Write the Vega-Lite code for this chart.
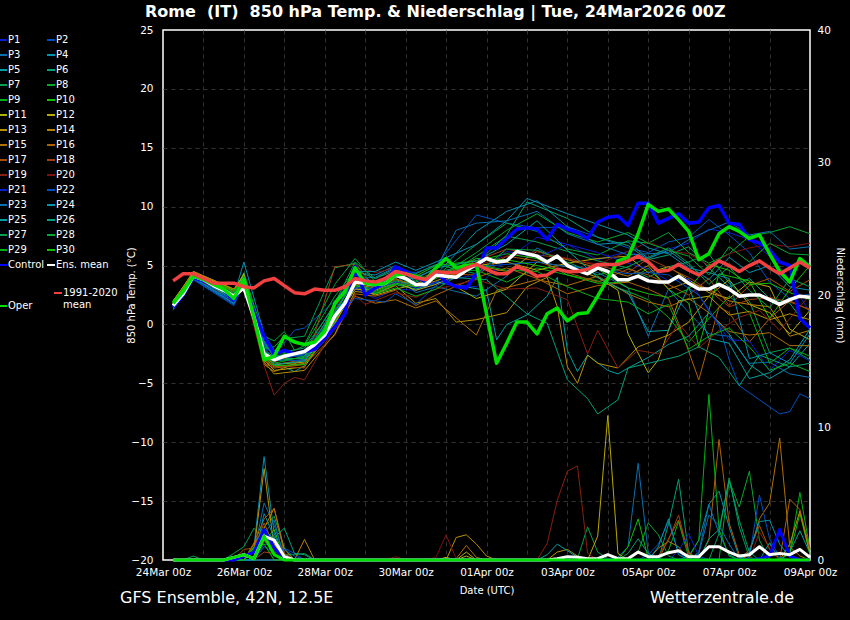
{"$schema":"https://vega.github.io/schema/vega-lite/v6.json",
"width":647,"height":530,
"autosize":{"type":"none"},
"padding":{"left":163,"top":30,"right":40,"bottom":60},
"background":"#000",
"title":{"text":"Rome\u00a0\u00a0(IT)\u00a0\u00a0850 hPa Temp. & Niederschlag | Tue, 24Mar2026 00Z","color":"#fff","fontSize":16,"fontWeight":"bold","anchor":"start","frame":"group","dx":-18,"offset":5},
"config":{"font":"DejaVu Sans","view":{"stroke":"#fff","strokeWidth":1.5},"line":{"strokeJoin":"round"},"legend":{"orient":"none","title":null,"columns":2,"direction":"horizontal","symbolLimit":0,"gridAlign":"each","symbolType":"stroke","symbolStrokeWidth":2,"symbolSize":64,"labelColor":"#fff","labelFontSize":10,"rowPadding":5,"columnPadding":1,"padding":0,"labelOffset":0}},
"datasets":{
"temperature":[
{"run":"P1","hour":6,"temp":1.5},{"run":"P1","hour":18,"temp":4.0},{"run":"P1","hour":42,"temp":2.0},{"run":"P1","hour":48,"temp":3.6},{"run":"P1","hour":60,"temp":-2.2},{"run":"P1","hour":66,"temp":-3.0},{"run":"P1","hour":84,"temp":-2.5},{"run":"P1","hour":102,"temp":0.5},{"run":"P1","hour":114,"temp":3.0},{"run":"P1","hour":126,"temp":2.2},{"run":"P1","hour":138,"temp":3.0},{"run":"P1","hour":150,"temp":2.9},{"run":"P1","hour":162,"temp":3.5},{"run":"P1","hour":186,"temp":3.2},{"run":"P1","hour":204,"temp":5.5},{"run":"P1","hour":222,"temp":7.4},{"run":"P1","hour":240,"temp":6.8},{"run":"P1","hour":258,"temp":5.5},{"run":"P1","hour":276,"temp":6.2},{"run":"P1","hour":288,"temp":5.6},{"run":"P1","hour":300,"temp":6.4},{"run":"P1","hour":312,"temp":6.9},{"run":"P1","hour":324,"temp":8.1},{"run":"P1","hour":336,"temp":7.8},{"run":"P1","hour":348,"temp":7.2},{"run":"P1","hour":360,"temp":5.8},{"run":"P1","hour":372,"temp":3.8},{"run":"P1","hour":384,"temp":1.0},
{"run":"P2","hour":6,"temp":1.3},{"run":"P2","hour":18,"temp":3.8},{"run":"P2","hour":42,"temp":1.8},{"run":"P2","hour":48,"temp":3.3},{"run":"P2","hour":60,"temp":-1.8},{"run":"P2","hour":66,"temp":-2.6},{"run":"P2","hour":78,"temp":-0.5},{"run":"P2","hour":84,"temp":-0.3},{"run":"P2","hour":102,"temp":2.0},{"run":"P2","hour":114,"temp":4.2},{"run":"P2","hour":126,"temp":3.5},{"run":"P2","hour":138,"temp":4.6},{"run":"P2","hour":150,"temp":4.4},{"run":"P2","hour":162,"temp":5.0},{"run":"P2","hour":186,"temp":9.3},{"run":"P2","hour":204,"temp":8.6},{"run":"P2","hour":222,"temp":8.2},{"run":"P2","hour":240,"temp":8.3},{"run":"P2","hour":258,"temp":7.4},{"run":"P2","hour":276,"temp":6.5},{"run":"P2","hour":288,"temp":6.1},{"run":"P2","hour":300,"temp":7.0},{"run":"P2","hour":312,"temp":7.4},{"run":"P2","hour":324,"temp":8.9},{"run":"P2","hour":336,"temp":7.6},{"run":"P2","hour":348,"temp":6.1},{"run":"P2","hour":360,"temp":3.6},{"run":"P2","hour":372,"temp":2.2},{"run":"P2","hour":384,"temp":2.6},
{"run":"P3","hour":6,"temp":1.4},{"run":"P3","hour":18,"temp":3.9},{"run":"P3","hour":42,"temp":1.7},{"run":"P3","hour":48,"temp":3.9},{"run":"P3","hour":60,"temp":-1.5},{"run":"P3","hour":66,"temp":-2.8},{"run":"P3","hour":84,"temp":-2.2},{"run":"P3","hour":102,"temp":1.0},{"run":"P3","hour":114,"temp":3.8},{"run":"P3","hour":126,"temp":3.4},{"run":"P3","hour":138,"temp":4.2},{"run":"P3","hour":150,"temp":2.7},{"run":"P3","hour":162,"temp":3.2},{"run":"P3","hour":186,"temp":2.4},{"run":"P3","hour":204,"temp":4.1},{"run":"P3","hour":222,"temp":6.5},{"run":"P3","hour":240,"temp":5.1},{"run":"P3","hour":258,"temp":4.4},{"run":"P3","hour":276,"temp":3.1},{"run":"P3","hour":288,"temp":-1.0},{"run":"P3","hour":300,"temp":3.0},{"run":"P3","hour":312,"temp":1.0},{"run":"P3","hour":324,"temp":-0.8},{"run":"P3","hour":336,"temp":-1.0},{"run":"P3","hour":348,"temp":-3.3},{"run":"P3","hour":360,"temp":-3.2},{"run":"P3","hour":372,"temp":-4.2},{"run":"P3","hour":384,"temp":-4.5},
{"run":"P4","hour":6,"temp":1.5},{"run":"P4","hour":18,"temp":4.0},{"run":"P4","hour":42,"temp":2.4},{"run":"P4","hour":48,"temp":5.3},{"run":"P4","hour":60,"temp":-0.8},{"run":"P4","hour":66,"temp":-2.2},{"run":"P4","hour":84,"temp":-2.6},{"run":"P4","hour":102,"temp":0.7},{"run":"P4","hour":114,"temp":4.4},{"run":"P4","hour":126,"temp":4.2},{"run":"P4","hour":138,"temp":5.0},{"run":"P4","hour":150,"temp":3.6},{"run":"P4","hour":162,"temp":4.2},{"run":"P4","hour":186,"temp":7.9},{"run":"P4","hour":204,"temp":9.6},{"run":"P4","hour":222,"temp":10.5},{"run":"P4","hour":240,"temp":8.3},{"run":"P4","hour":258,"temp":6.8},{"run":"P4","hour":276,"temp":7.0},{"run":"P4","hour":288,"temp":5.6},{"run":"P4","hour":300,"temp":6.3},{"run":"P4","hour":312,"temp":5.0},{"run":"P4","hour":324,"temp":3.8},{"run":"P4","hour":336,"temp":5.7},{"run":"P4","hour":348,"temp":4.4},{"run":"P4","hour":360,"temp":5.0},{"run":"P4","hour":372,"temp":3.2},{"run":"P4","hour":384,"temp":2.9},
{"run":"P5","hour":6,"temp":1.6},{"run":"P5","hour":18,"temp":4.0},{"run":"P5","hour":42,"temp":2.2},{"run":"P5","hour":48,"temp":3.8},{"run":"P5","hour":60,"temp":-2.5},{"run":"P5","hour":66,"temp":-3.2},{"run":"P5","hour":78,"temp":-4.0},{"run":"P5","hour":84,"temp":-3.5},{"run":"P5","hour":102,"temp":0.2},{"run":"P5","hour":114,"temp":3.2},{"run":"P5","hour":126,"temp":2.6},{"run":"P5","hour":138,"temp":3.4},{"run":"P5","hour":150,"temp":3.0},{"run":"P5","hour":162,"temp":3.6},{"run":"P5","hour":192,"temp":2.9},{"run":"P5","hour":198,"temp":-1.3},{"run":"P5","hour":204,"temp":0.0},{"run":"P5","hour":216,"temp":0.8},{"run":"P5","hour":228,"temp":2.4},{"run":"P5","hour":234,"temp":4.0},{"run":"P5","hour":240,"temp":-2.2},{"run":"P5","hour":246,"temp":-4.0},{"run":"P5","hour":252,"temp":-2.6},{"run":"P5","hour":264,"temp":-3.9},{"run":"P5","hour":270,"temp":-4.2},{"run":"P5","hour":276,"temp":-3.7},{"run":"P5","hour":288,"temp":-2.8},{"run":"P5","hour":300,"temp":-1.7},{"run":"P5","hour":312,"temp":-1.0},{"run":"P5","hour":324,"temp":1.0},{"run":"P5","hour":336,"temp":-0.8},{"run":"P5","hour":348,"temp":-3.4},{"run":"P5","hour":360,"temp":-4.6},{"run":"P5","hour":372,"temp":-3.6},{"run":"P5","hour":384,"temp":-1.6},
{"run":"P6","hour":6,"temp":1.7},{"run":"P6","hour":18,"temp":4.1},{"run":"P6","hour":42,"temp":2.6},{"run":"P6","hour":48,"temp":3.9},{"run":"P6","hour":60,"temp":-1.4},{"run":"P6","hour":66,"temp":-2.5},{"run":"P6","hour":84,"temp":-2.0},{"run":"P6","hour":102,"temp":1.6},{"run":"P6","hour":114,"temp":4.6},{"run":"P6","hour":126,"temp":3.9},{"run":"P6","hour":138,"temp":4.8},{"run":"P6","hour":150,"temp":3.8},{"run":"P6","hour":162,"temp":4.4},{"run":"P6","hour":186,"temp":5.2},{"run":"P6","hour":204,"temp":7.6},{"run":"P6","hour":216,"temp":10.4},{"run":"P6","hour":240,"temp":9.0},{"run":"P6","hour":258,"temp":7.4},{"run":"P6","hour":276,"temp":6.7},{"run":"P6","hour":288,"temp":5.5},{"run":"P6","hour":300,"temp":5.9},{"run":"P6","hour":312,"temp":6.6},{"run":"P6","hour":324,"temp":4.8},{"run":"P6","hour":336,"temp":3.2},{"run":"P6","hour":348,"temp":3.9},{"run":"P6","hour":360,"temp":2.2},{"run":"P6","hour":372,"temp":1.8},{"run":"P6","hour":384,"temp":-0.5},
{"run":"P7","hour":6,"temp":1.8},{"run":"P7","hour":18,"temp":4.1},{"run":"P7","hour":42,"temp":2.4},{"run":"P7","hour":48,"temp":4.4},{"run":"P7","hour":60,"temp":-1.6},{"run":"P7","hour":66,"temp":-2.3},{"run":"P7","hour":72,"temp":-1.2},{"run":"P7","hour":84,"temp":-1.0},{"run":"P7","hour":102,"temp":4.8},{"run":"P7","hour":114,"temp":5.2},{"run":"P7","hour":126,"temp":3.1},{"run":"P7","hour":138,"temp":3.4},{"run":"P7","hour":150,"temp":3.0},{"run":"P7","hour":162,"temp":3.6},{"run":"P7","hour":186,"temp":5.8},{"run":"P7","hour":204,"temp":7.5},{"run":"P7","hour":222,"temp":7.0},{"run":"P7","hour":240,"temp":6.2},{"run":"P7","hour":258,"temp":5.4},{"run":"P7","hour":276,"temp":4.8},{"run":"P7","hour":288,"temp":4.0},{"run":"P7","hour":300,"temp":4.9},{"run":"P7","hour":312,"temp":5.3},{"run":"P7","hour":324,"temp":6.0},{"run":"P7","hour":336,"temp":3.5},{"run":"P7","hour":348,"temp":2.0},{"run":"P7","hour":360,"temp":-2.4},{"run":"P7","hour":372,"temp":-2.0},{"run":"P7","hour":384,"temp":-3.0},
{"run":"P8","hour":6,"temp":1.7},{"run":"P8","hour":18,"temp":4.2},{"run":"P8","hour":42,"temp":2.8},{"run":"P8","hour":48,"temp":4.3},{"run":"P8","hour":60,"temp":-1.0},{"run":"P8","hour":66,"temp":-1.4},{"run":"P8","hour":72,"temp":-0.6},{"run":"P8","hour":78,"temp":-2.2},{"run":"P8","hour":84,"temp":-1.8},{"run":"P8","hour":102,"temp":2.4},{"run":"P8","hour":114,"temp":4.6},{"run":"P8","hour":126,"temp":3.0},{"run":"P8","hour":138,"temp":3.8},{"run":"P8","hour":150,"temp":3.4},{"run":"P8","hour":162,"temp":4.1},{"run":"P8","hour":186,"temp":6.8},{"run":"P8","hour":204,"temp":8.6},{"run":"P8","hour":222,"temp":7.9},{"run":"P8","hour":240,"temp":6.4},{"run":"P8","hour":258,"temp":5.9},{"run":"P8","hour":276,"temp":7.1},{"run":"P8","hour":288,"temp":6.9},{"run":"P8","hour":300,"temp":7.8},{"run":"P8","hour":312,"temp":6.1},{"run":"P8","hour":324,"temp":5.2},{"run":"P8","hour":336,"temp":6.0},{"run":"P8","hour":348,"temp":7.5},{"run":"P8","hour":360,"temp":7.8},{"run":"P8","hour":372,"temp":8.3},{"run":"P8","hour":384,"temp":7.7},
{"run":"P9","hour":6,"temp":1.8},{"run":"P9","hour":18,"temp":4.2},{"run":"P9","hour":42,"temp":2.6},{"run":"P9","hour":48,"temp":4.2},{"run":"P9","hour":60,"temp":-1.9},{"run":"P9","hour":66,"temp":-2.4},{"run":"P9","hour":84,"temp":-2.5},{"run":"P9","hour":102,"temp":0.8},{"run":"P9","hour":114,"temp":3.4},{"run":"P9","hour":126,"temp":2.7},{"run":"P9","hour":138,"temp":3.4},{"run":"P9","hour":150,"temp":3.7},{"run":"P9","hour":162,"temp":4.5},{"run":"P9","hour":186,"temp":4.6},{"run":"P9","hour":204,"temp":3.6},{"run":"P9","hour":222,"temp":4.8},{"run":"P9","hour":240,"temp":4.2},{"run":"P9","hour":258,"temp":3.7},{"run":"P9","hour":276,"temp":2.8},{"run":"P9","hour":288,"temp":2.1},{"run":"P9","hour":300,"temp":0.6},{"run":"P9","hour":312,"temp":-1.5},{"run":"P9","hour":324,"temp":0.5},{"run":"P9","hour":336,"temp":2.4},{"run":"P9","hour":348,"temp":1.0},{"run":"P9","hour":360,"temp":-3.3},{"run":"P9","hour":372,"temp":-2.0},{"run":"P9","hour":384,"temp":-2.7},
{"run":"P10","hour":6,"temp":1.9},{"run":"P10","hour":18,"temp":4.2},{"run":"P10","hour":42,"temp":2.5},{"run":"P10","hour":48,"temp":4.0},{"run":"P10","hour":60,"temp":-2.3},{"run":"P10","hour":66,"temp":-2.9},{"run":"P10","hour":84,"temp":-2.9},{"run":"P10","hour":102,"temp":0.6},{"run":"P10","hour":114,"temp":3.6},{"run":"P10","hour":126,"temp":3.3},{"run":"P10","hour":138,"temp":4.2},{"run":"P10","hour":150,"temp":4.1},{"run":"P10","hour":162,"temp":5.0},{"run":"P10","hour":186,"temp":5.4},{"run":"P10","hour":204,"temp":6.0},{"run":"P10","hour":222,"temp":5.6},{"run":"P10","hour":240,"temp":4.2},{"run":"P10","hour":258,"temp":3.5},{"run":"P10","hour":276,"temp":3.6},{"run":"P10","hour":288,"temp":4.8},{"run":"P10","hour":300,"temp":3.0},{"run":"P10","hour":312,"temp":1.8},{"run":"P10","hour":318,"temp":-1.9},{"run":"P10","hour":330,"temp":4.3},{"run":"P10","hour":348,"temp":3.7},{"run":"P10","hour":360,"temp":0.5},{"run":"P10","hour":372,"temp":3.0},{"run":"P10","hour":384,"temp":5.0},
{"run":"P11","hour":6,"temp":2.0},{"run":"P11","hour":18,"temp":4.3},{"run":"P11","hour":42,"temp":2.9},{"run":"P11","hour":48,"temp":4.3},{"run":"P11","hour":60,"temp":-2.7},{"run":"P11","hour":66,"temp":-3.4},{"run":"P11","hour":84,"temp":-3.2},{"run":"P11","hour":102,"temp":0.4},{"run":"P11","hour":114,"temp":3.1},{"run":"P11","hour":126,"temp":2.5},{"run":"P11","hour":138,"temp":3.0},{"run":"P11","hour":150,"temp":3.4},{"run":"P11","hour":162,"temp":4.2},{"run":"P11","hour":186,"temp":2.2},{"run":"P11","hour":204,"temp":3.0},{"run":"P11","hour":222,"temp":5.3},{"run":"P11","hour":240,"temp":4.9},{"run":"P11","hour":258,"temp":4.0},{"run":"P11","hour":270,"temp":2.9},{"run":"P11","hour":276,"temp":-0.8},{"run":"P11","hour":288,"temp":-4.1},{"run":"P11","hour":294,"temp":-3.0},{"run":"P11","hour":306,"temp":2.0},{"run":"P11","hour":324,"temp":2.4},{"run":"P11","hour":336,"temp":3.8},{"run":"P11","hour":348,"temp":1.7},{"run":"P11","hour":360,"temp":1.0},{"run":"P11","hour":372,"temp":-0.8},{"run":"P11","hour":384,"temp":1.2},
{"run":"P12","hour":6,"temp":2.0},{"run":"P12","hour":18,"temp":4.4},{"run":"P12","hour":42,"temp":3.0},{"run":"P12","hour":48,"temp":4.1},{"run":"P12","hour":60,"temp":-3.0},{"run":"P12","hour":66,"temp":-3.9},{"run":"P12","hour":84,"temp":-3.6},{"run":"P12","hour":102,"temp":0.1},{"run":"P12","hour":114,"temp":3.0},{"run":"P12","hour":126,"temp":2.9},{"run":"P12","hour":138,"temp":3.6},{"run":"P12","hour":150,"temp":2.9},{"run":"P12","hour":162,"temp":3.4},{"run":"P12","hour":186,"temp":5.0},{"run":"P12","hour":204,"temp":5.3},{"run":"P12","hour":222,"temp":4.6},{"run":"P12","hour":240,"temp":5.2},{"run":"P12","hour":258,"temp":5.6},{"run":"P12","hour":276,"temp":5.8},{"run":"P12","hour":288,"temp":4.4},{"run":"P12","hour":300,"temp":4.9},{"run":"P12","hour":312,"temp":3.8},{"run":"P12","hour":324,"temp":2.7},{"run":"P12","hour":336,"temp":2.2},{"run":"P12","hour":348,"temp":3.6},{"run":"P12","hour":360,"temp":3.2},{"run":"P12","hour":372,"temp":-0.4},{"run":"P12","hour":384,"temp":-1.3},
{"run":"P13","hour":6,"temp":1.9},{"run":"P13","hour":18,"temp":4.5},{"run":"P13","hour":42,"temp":3.0},{"run":"P13","hour":48,"temp":3.9},{"run":"P13","hour":60,"temp":-3.2},{"run":"P13","hour":66,"temp":-4.2},{"run":"P13","hour":84,"temp":-3.9},{"run":"P13","hour":102,"temp":-0.8},{"run":"P13","hour":114,"temp":2.8},{"run":"P13","hour":126,"temp":2.6},{"run":"P13","hour":138,"temp":3.3},{"run":"P13","hour":150,"temp":1.8},{"run":"P13","hour":162,"temp":2.2},{"run":"P13","hour":174,"temp":0.2},{"run":"P13","hour":186,"temp":0.4},{"run":"P13","hour":204,"temp":1.0},{"run":"P13","hour":216,"temp":3.2},{"run":"P13","hour":228,"temp":4.0},{"run":"P13","hour":234,"temp":1.5},{"run":"P13","hour":240,"temp":-3.6},{"run":"P13","hour":246,"temp":-5.0},{"run":"P13","hour":252,"temp":-2.6},{"run":"P13","hour":258,"temp":-3.3},{"run":"P13","hour":270,"temp":-3.7},{"run":"P13","hour":282,"temp":-1.9},{"run":"P13","hour":300,"temp":-0.9},{"run":"P13","hour":312,"temp":0.2},{"run":"P13","hour":324,"temp":2.4},{"run":"P13","hour":336,"temp":0.8},{"run":"P13","hour":348,"temp":1.1},{"run":"P13","hour":360,"temp":0.4},{"run":"P13","hour":372,"temp":0.9},{"run":"P13","hour":384,"temp":0.4},
{"run":"P14","hour":6,"temp":1.8},{"run":"P14","hour":18,"temp":4.5},{"run":"P14","hour":42,"temp":3.0},{"run":"P14","hour":48,"temp":3.7},{"run":"P14","hour":60,"temp":-3.4},{"run":"P14","hour":66,"temp":-4.0},{"run":"P14","hour":84,"temp":-3.0},{"run":"P14","hour":102,"temp":0.0},{"run":"P14","hour":114,"temp":3.4},{"run":"P14","hour":126,"temp":3.1},{"run":"P14","hour":138,"temp":3.9},{"run":"P14","hour":150,"temp":3.2},{"run":"P14","hour":162,"temp":3.7},{"run":"P14","hour":186,"temp":5.0},{"run":"P14","hour":204,"temp":4.5},{"run":"P14","hour":222,"temp":6.2},{"run":"P14","hour":240,"temp":5.5},{"run":"P14","hour":258,"temp":4.8},{"run":"P14","hour":276,"temp":4.1},{"run":"P14","hour":288,"temp":5.0},{"run":"P14","hour":300,"temp":3.0},{"run":"P14","hour":312,"temp":3.6},{"run":"P14","hour":324,"temp":3.0},{"run":"P14","hour":336,"temp":2.0},{"run":"P14","hour":348,"temp":1.7},{"run":"P14","hour":360,"temp":1.5},{"run":"P14","hour":372,"temp":-1.0},{"run":"P14","hour":384,"temp":-0.5},
{"run":"P15","hour":6,"temp":1.7},{"run":"P15","hour":18,"temp":4.4},{"run":"P15","hour":42,"temp":2.8},{"run":"P15","hour":48,"temp":3.4},{"run":"P15","hour":60,"temp":-3.1},{"run":"P15","hour":66,"temp":-3.6},{"run":"P15","hour":84,"temp":-3.3},{"run":"P15","hour":102,"temp":-0.4},{"run":"P15","hour":114,"temp":2.4},{"run":"P15","hour":126,"temp":1.8},{"run":"P15","hour":138,"temp":2.1},{"run":"P15","hour":150,"temp":1.4},{"run":"P15","hour":162,"temp":2.0},{"run":"P15","hour":186,"temp":-0.9},{"run":"P15","hour":198,"temp":2.9},{"run":"P15","hour":222,"temp":3.8},{"run":"P15","hour":240,"temp":3.3},{"run":"P15","hour":258,"temp":4.1},{"run":"P15","hour":276,"temp":2.6},{"run":"P15","hour":288,"temp":1.9},{"run":"P15","hour":300,"temp":1.5},{"run":"P15","hour":312,"temp":2.2},{"run":"P15","hour":324,"temp":1.0},{"run":"P15","hour":336,"temp":-0.6},{"run":"P15","hour":348,"temp":-0.9},{"run":"P15","hour":360,"temp":-0.7},{"run":"P15","hour":372,"temp":-1.8},{"run":"P15","hour":384,"temp":-1.8},
{"run":"P16","hour":6,"temp":1.6},{"run":"P16","hour":18,"temp":4.3},{"run":"P16","hour":42,"temp":2.6},{"run":"P16","hour":48,"temp":3.3},{"run":"P16","hour":60,"temp":-3.3},{"run":"P16","hour":66,"temp":-3.7},{"run":"P16","hour":84,"temp":-3.4},{"run":"P16","hour":102,"temp":-0.9},{"run":"P16","hour":114,"temp":2.6},{"run":"P16","hour":126,"temp":2.4},{"run":"P16","hour":138,"temp":2.9},{"run":"P16","hour":150,"temp":1.6},{"run":"P16","hour":162,"temp":2.5},{"run":"P16","hour":186,"temp":4.0},{"run":"P16","hour":204,"temp":4.8},{"run":"P16","hour":222,"temp":3.9},{"run":"P16","hour":240,"temp":2.6},{"run":"P16","hour":258,"temp":3.3},{"run":"P16","hour":276,"temp":3.6},{"run":"P16","hour":288,"temp":3.0},{"run":"P16","hour":300,"temp":2.2},{"run":"P16","hour":306,"temp":0.1},{"run":"P16","hour":318,"temp":-4.7},{"run":"P16","hour":330,"temp":1.5},{"run":"P16","hour":336,"temp":1.0},{"run":"P16","hour":348,"temp":-1.5},{"run":"P16","hour":360,"temp":0.5},{"run":"P16","hour":372,"temp":2.0},{"run":"P16","hour":384,"temp":1.2},
{"run":"P17","hour":6,"temp":1.6},{"run":"P17","hour":18,"temp":4.2},{"run":"P17","hour":42,"temp":2.5},{"run":"P17","hour":48,"temp":3.6},{"run":"P17","hour":60,"temp":-2.8},{"run":"P17","hour":66,"temp":-3.4},{"run":"P17","hour":84,"temp":-3.0},{"run":"P17","hour":102,"temp":0.3},{"run":"P17","hour":114,"temp":3.5},{"run":"P17","hour":126,"temp":3.2},{"run":"P17","hour":138,"temp":3.8},{"run":"P17","hour":150,"temp":3.4},{"run":"P17","hour":162,"temp":4.3},{"run":"P17","hour":186,"temp":4.2},{"run":"P17","hour":204,"temp":5.8},{"run":"P17","hour":222,"temp":5.4},{"run":"P17","hour":240,"temp":4.4},{"run":"P17","hour":258,"temp":3.6},{"run":"P17","hour":276,"temp":4.7},{"run":"P17","hour":288,"temp":4.2},{"run":"P17","hour":300,"temp":3.4},{"run":"P17","hour":312,"temp":2.5},{"run":"P17","hour":324,"temp":3.9},{"run":"P17","hour":336,"temp":1.6},{"run":"P17","hour":348,"temp":3.3},{"run":"P17","hour":360,"temp":3.9},{"run":"P17","hour":372,"temp":2.8},{"run":"P17","hour":384,"temp":3.8},
{"run":"P18","hour":6,"temp":1.5},{"run":"P18","hour":18,"temp":4.1},{"run":"P18","hour":42,"temp":2.7},{"run":"P18","hour":48,"temp":3.5},{"run":"P18","hour":60,"temp":-3.0},{"run":"P18","hour":66,"temp":-3.5},{"run":"P18","hour":84,"temp":-3.7},{"run":"P18","hour":102,"temp":4.9},{"run":"P18","hour":114,"temp":5.1},{"run":"P18","hour":126,"temp":3.0},{"run":"P18","hour":138,"temp":3.6},{"run":"P18","hour":150,"temp":3.2},{"run":"P18","hour":162,"temp":3.9},{"run":"P18","hour":186,"temp":5.4},{"run":"P18","hour":204,"temp":6.4},{"run":"P18","hour":222,"temp":5.9},{"run":"P18","hour":240,"temp":5.6},{"run":"P18","hour":258,"temp":5.0},{"run":"P18","hour":276,"temp":4.4},{"run":"P18","hour":288,"temp":5.6},{"run":"P18","hour":300,"temp":4.8},{"run":"P18","hour":312,"temp":4.0},{"run":"P18","hour":324,"temp":2.9},{"run":"P18","hour":336,"temp":1.5},{"run":"P18","hour":348,"temp":2.1},{"run":"P18","hour":360,"temp":2.3},{"run":"P18","hour":372,"temp":1.9},{"run":"P18","hour":384,"temp":1.3},
{"run":"P19","hour":6,"temp":1.6},{"run":"P19","hour":18,"temp":4.1},{"run":"P19","hour":42,"temp":2.3},{"run":"P19","hour":48,"temp":3.2},{"run":"P19","hour":60,"temp":-3.5},{"run":"P19","hour":66,"temp":-6.0},{"run":"P19","hour":72,"temp":-5.0},{"run":"P19","hour":78,"temp":-4.5},{"run":"P19","hour":84,"temp":-4.7},{"run":"P19","hour":102,"temp":-0.2},{"run":"P19","hour":114,"temp":2.5},{"run":"P19","hour":120,"temp":1.7},{"run":"P19","hour":138,"temp":2.7},{"run":"P19","hour":150,"temp":2.3},{"run":"P19","hour":162,"temp":3.0},{"run":"P19","hour":186,"temp":3.8},{"run":"P19","hour":204,"temp":3.0},{"run":"P19","hour":222,"temp":3.1},{"run":"P19","hour":240,"temp":2.1},{"run":"P19","hour":252,"temp":-2.5},{"run":"P19","hour":258,"temp":-0.5},{"run":"P19","hour":270,"temp":-3.7},{"run":"P19","hour":282,"temp":-2.2},{"run":"P19","hour":294,"temp":-2.5},{"run":"P19","hour":306,"temp":0.1},{"run":"P19","hour":318,"temp":-2.0},{"run":"P19","hour":330,"temp":-0.5},{"run":"P19","hour":342,"temp":0.6},{"run":"P19","hour":354,"temp":1.2},{"run":"P19","hour":366,"temp":-0.5},{"run":"P19","hour":384,"temp":2.5},
{"run":"P20","hour":6,"temp":1.7},{"run":"P20","hour":18,"temp":4.0},{"run":"P20","hour":42,"temp":2.1},{"run":"P20","hour":48,"temp":3.6},{"run":"P20","hour":60,"temp":-2.6},{"run":"P20","hour":66,"temp":-3.2},{"run":"P20","hour":84,"temp":-2.2},{"run":"P20","hour":102,"temp":1.2},{"run":"P20","hour":114,"temp":5.0},{"run":"P20","hour":126,"temp":4.4},{"run":"P20","hour":138,"temp":4.8},{"run":"P20","hour":150,"temp":3.8},{"run":"P20","hour":162,"temp":4.4},{"run":"P20","hour":186,"temp":5.0},{"run":"P20","hour":204,"temp":5.8},{"run":"P20","hour":222,"temp":6.2},{"run":"P20","hour":240,"temp":5.6},{"run":"P20","hour":258,"temp":5.1},{"run":"P20","hour":276,"temp":6.2},{"run":"P20","hour":288,"temp":7.0},{"run":"P20","hour":300,"temp":6.3},{"run":"P20","hour":312,"temp":6.0},{"run":"P20","hour":324,"temp":5.0},{"run":"P20","hour":336,"temp":6.0},{"run":"P20","hour":348,"temp":6.5},{"run":"P20","hour":360,"temp":6.8},{"run":"P20","hour":372,"temp":6.6},{"run":"P20","hour":384,"temp":6.9},
{"run":"P21","hour":6,"temp":1.3},{"run":"P21","hour":18,"temp":3.9},{"run":"P21","hour":42,"temp":1.9},{"run":"P21","hour":48,"temp":3.6},{"run":"P21","hour":60,"temp":-2.0},{"run":"P21","hour":66,"temp":-2.9},{"run":"P21","hour":84,"temp":-2.6},{"run":"P21","hour":102,"temp":0.9},{"run":"P21","hour":114,"temp":3.1},{"run":"P21","hour":126,"temp":3.0},{"run":"P21","hour":138,"temp":3.6},{"run":"P21","hour":150,"temp":3.1},{"run":"P21","hour":162,"temp":3.6},{"run":"P21","hour":186,"temp":4.2},{"run":"P21","hour":204,"temp":6.2},{"run":"P21","hour":222,"temp":5.7},{"run":"P21","hour":240,"temp":6.8},{"run":"P21","hour":258,"temp":6.1},{"run":"P21","hour":276,"temp":5.2},{"run":"P21","hour":288,"temp":4.7},{"run":"P21","hour":300,"temp":3.7},{"run":"P21","hour":312,"temp":3.9},{"run":"P21","hour":324,"temp":1.1},{"run":"P21","hour":336,"temp":-1.3},{"run":"P21","hour":348,"temp":-1.4},{"run":"P21","hour":360,"temp":-3.9},{"run":"P21","hour":372,"temp":-2.2},{"run":"P21","hour":384,"temp":-3.1},
{"run":"P22","hour":6,"temp":1.2},{"run":"P22","hour":18,"temp":3.8},{"run":"P22","hour":42,"temp":1.6},{"run":"P22","hour":48,"temp":3.4},{"run":"P22","hour":60,"temp":-1.9},{"run":"P22","hour":66,"temp":-3.0},{"run":"P22","hour":84,"temp":-3.1},{"run":"P22","hour":102,"temp":0.7},{"run":"P22","hour":114,"temp":2.2},{"run":"P22","hour":126,"temp":2.0},{"run":"P22","hour":132,"temp":1.9},{"run":"P22","hour":138,"temp":2.6},{"run":"P22","hour":150,"temp":1.7},{"run":"P22","hour":162,"temp":3.3},{"run":"P22","hour":186,"temp":4.9},{"run":"P22","hour":204,"temp":5.1},{"run":"P22","hour":222,"temp":5.3},{"run":"P22","hour":240,"temp":4.9},{"run":"P22","hour":258,"temp":4.7},{"run":"P22","hour":276,"temp":4.3},{"run":"P22","hour":288,"temp":4.4},{"run":"P22","hour":300,"temp":4.2},{"run":"P22","hour":318,"temp":2.5},{"run":"P22","hour":330,"temp":0.0},{"run":"P22","hour":336,"temp":-3.0},{"run":"P22","hour":342,"temp":-5.2},{"run":"P22","hour":354,"temp":-6.4},{"run":"P22","hour":366,"temp":-7.6},{"run":"P22","hour":372,"temp":-7.4},{"run":"P22","hour":378,"temp":-5.9},{"run":"P22","hour":384,"temp":-6.3},
{"run":"P23","hour":6,"temp":1.3},{"run":"P23","hour":18,"temp":3.9},{"run":"P23","hour":42,"temp":2.0},{"run":"P23","hour":48,"temp":3.7},{"run":"P23","hour":60,"temp":-1.6},{"run":"P23","hour":66,"temp":-2.7},{"run":"P23","hour":84,"temp":-3.0},{"run":"P23","hour":102,"temp":1.2},{"run":"P23","hour":114,"temp":3.9},{"run":"P23","hour":126,"temp":4.0},{"run":"P23","hour":138,"temp":4.9},{"run":"P23","hour":150,"temp":4.0},{"run":"P23","hour":162,"temp":4.7},{"run":"P23","hour":174,"temp":8.0},{"run":"P23","hour":186,"temp":8.6},{"run":"P23","hour":204,"temp":8.8},{"run":"P23","hour":222,"temp":9.6},{"run":"P23","hour":240,"temp":7.7},{"run":"P23","hour":258,"temp":6.8},{"run":"P23","hour":276,"temp":5.9},{"run":"P23","hour":300,"temp":6.1},{"run":"P23","hour":312,"temp":7.2},{"run":"P23","hour":324,"temp":8.0},{"run":"P23","hour":336,"temp":8.7},{"run":"P23","hour":348,"temp":7.6},{"run":"P23","hour":360,"temp":7.9},{"run":"P23","hour":372,"temp":6.4},{"run":"P23","hour":384,"temp":6.6},
{"run":"P24","hour":6,"temp":1.4},{"run":"P24","hour":18,"temp":4.0},{"run":"P24","hour":42,"temp":1.8},{"run":"P24","hour":48,"temp":3.8},{"run":"P24","hour":60,"temp":-1.7},{"run":"P24","hour":66,"temp":-2.6},{"run":"P24","hour":84,"temp":-2.7},{"run":"P24","hour":102,"temp":1.5},{"run":"P24","hour":114,"temp":4.5},{"run":"P24","hour":126,"temp":4.5},{"run":"P24","hour":138,"temp":5.3},{"run":"P24","hour":150,"temp":4.6},{"run":"P24","hour":162,"temp":5.3},{"run":"P24","hour":186,"temp":6.8},{"run":"P24","hour":204,"temp":8.8},{"run":"P24","hour":216,"temp":10.7},{"run":"P24","hour":240,"temp":9.4},{"run":"P24","hour":258,"temp":8.5},{"run":"P24","hour":276,"temp":7.6},{"run":"P24","hour":288,"temp":6.5},{"run":"P24","hour":300,"temp":6.0},{"run":"P24","hour":312,"temp":4.8},{"run":"P24","hour":324,"temp":4.4},{"run":"P24","hour":336,"temp":3.9},{"run":"P24","hour":348,"temp":-2.9},{"run":"P24","hour":360,"temp":-2.4},{"run":"P24","hour":372,"temp":-3.3},{"run":"P24","hour":384,"temp":-0.8},
{"run":"P25","hour":6,"temp":1.5},{"run":"P25","hour":18,"temp":4.1},{"run":"P25","hour":42,"temp":2.1},{"run":"P25","hour":48,"temp":3.7},{"run":"P25","hour":60,"temp":-2.4},{"run":"P25","hour":66,"temp":-3.4},{"run":"P25","hour":84,"temp":-3.1},{"run":"P25","hour":102,"temp":0.5},{"run":"P25","hour":114,"temp":3.6},{"run":"P25","hour":126,"temp":3.2},{"run":"P25","hour":138,"temp":4.0},{"run":"P25","hour":150,"temp":3.9},{"run":"P25","hour":162,"temp":4.8},{"run":"P25","hour":186,"temp":5.4},{"run":"P25","hour":204,"temp":6.8},{"run":"P25","hour":222,"temp":8.8},{"run":"P25","hour":240,"temp":6.3},{"run":"P25","hour":258,"temp":4.0},{"run":"P25","hour":276,"temp":2.7},{"run":"P25","hour":288,"temp":-0.6},{"run":"P25","hour":300,"temp":-0.5},{"run":"P25","hour":312,"temp":3.2},{"run":"P25","hour":324,"temp":-1.2},{"run":"P25","hour":336,"temp":-1.6},{"run":"P25","hour":348,"temp":-4.6},{"run":"P25","hour":360,"temp":-4.1},{"run":"P25","hour":372,"temp":-3.0},{"run":"P25","hour":384,"temp":-0.4},
{"run":"P26","hour":6,"temp":1.6},{"run":"P26","hour":18,"temp":4.1},{"run":"P26","hour":42,"temp":2.4},{"run":"P26","hour":48,"temp":3.9},{"run":"P26","hour":60,"temp":-2.1},{"run":"P26","hour":66,"temp":-3.1},{"run":"P26","hour":84,"temp":-2.8},{"run":"P26","hour":102,"temp":0.9},{"run":"P26","hour":114,"temp":3.3},{"run":"P26","hour":126,"temp":3.0},{"run":"P26","hour":138,"temp":3.7},{"run":"P26","hour":150,"temp":3.3},{"run":"P26","hour":162,"temp":4.1},{"run":"P26","hour":192,"temp":3.8},{"run":"P26","hour":216,"temp":0.9},{"run":"P26","hour":228,"temp":0.1},{"run":"P26","hour":240,"temp":-4.7},{"run":"P26","hour":252,"temp":-6.3},{"run":"P26","hour":258,"temp":-7.6},{"run":"P26","hour":270,"temp":-6.4},{"run":"P26","hour":276,"temp":-3.7},{"run":"P26","hour":288,"temp":-3.3},{"run":"P26","hour":306,"temp":-2.7},{"run":"P26","hour":318,"temp":-1.9},{"run":"P26","hour":330,"temp":-2.8},{"run":"P26","hour":342,"temp":-5.2},{"run":"P26","hour":354,"temp":-2.6},{"run":"P26","hour":372,"temp":-3.6},{"run":"P26","hour":384,"temp":-3.3},
{"run":"P27","hour":6,"temp":1.7},{"run":"P27","hour":18,"temp":4.2},{"run":"P27","hour":42,"temp":2.6},{"run":"P27","hour":48,"temp":4.1},{"run":"P27","hour":60,"temp":-2.3},{"run":"P27","hour":66,"temp":-2.7},{"run":"P27","hour":84,"temp":-2.3},{"run":"P27","hour":102,"temp":1.8},{"run":"P27","hour":114,"temp":5.3},{"run":"P27","hour":126,"temp":3.9},{"run":"P27","hour":138,"temp":4.6},{"run":"P27","hour":150,"temp":4.3},{"run":"P27","hour":162,"temp":5.1},{"run":"P27","hour":186,"temp":4.3},{"run":"P27","hour":204,"temp":6.4},{"run":"P27","hour":222,"temp":6.3},{"run":"P27","hour":240,"temp":5.3},{"run":"P27","hour":258,"temp":4.2},{"run":"P27","hour":276,"temp":4.9},{"run":"P27","hour":288,"temp":5.7},{"run":"P27","hour":300,"temp":6.5},{"run":"P27","hour":312,"temp":5.2},{"run":"P27","hour":324,"temp":3.4},{"run":"P27","hour":336,"temp":4.9},{"run":"P27","hour":348,"temp":2.9},{"run":"P27","hour":360,"temp":1.4},{"run":"P27","hour":372,"temp":3.9},{"run":"P27","hour":384,"temp":3.2},
{"run":"P28","hour":6,"temp":1.8},{"run":"P28","hour":18,"temp":4.2},{"run":"P28","hour":42,"temp":2.7},{"run":"P28","hour":48,"temp":4.0},{"run":"P28","hour":60,"temp":-2.0},{"run":"P28","hour":66,"temp":-1.9},{"run":"P28","hour":72,"temp":-1.0},{"run":"P28","hour":84,"temp":-1.7},{"run":"P28","hour":102,"temp":3.4},{"run":"P28","hour":114,"temp":5.6},{"run":"P28","hour":126,"temp":3.6},{"run":"P28","hour":138,"temp":4.2},{"run":"P28","hour":150,"temp":3.2},{"run":"P28","hour":162,"temp":3.9},{"run":"P28","hour":186,"temp":6.1},{"run":"P28","hour":204,"temp":8.0},{"run":"P28","hour":222,"temp":9.4},{"run":"P28","hour":240,"temp":7.8},{"run":"P28","hour":258,"temp":7.0},{"run":"P28","hour":276,"temp":7.8},{"run":"P28","hour":288,"temp":6.9},{"run":"P28","hour":300,"temp":6.3},{"run":"P28","hour":312,"temp":5.8},{"run":"P28","hour":324,"temp":4.2},{"run":"P28","hour":336,"temp":6.6},{"run":"P28","hour":348,"temp":5.3},{"run":"P28","hour":360,"temp":6.9},{"run":"P28","hour":372,"temp":6.0},{"run":"P28","hour":384,"temp":5.9},
{"run":"P29","hour":6,"temp":1.9},{"run":"P29","hour":18,"temp":4.1},{"run":"P29","hour":42,"temp":2.3},{"run":"P29","hour":48,"temp":3.7},{"run":"P29","hour":60,"temp":-2.6},{"run":"P29","hour":66,"temp":-3.3},{"run":"P29","hour":84,"temp":-2.7},{"run":"P29","hour":102,"temp":1.1},{"run":"P29","hour":114,"temp":3.7},{"run":"P29","hour":126,"temp":2.6},{"run":"P29","hour":138,"temp":3.1},{"run":"P29","hour":150,"temp":2.4},{"run":"P29","hour":162,"temp":3.0},{"run":"P29","hour":186,"temp":5.1},{"run":"P29","hour":204,"temp":4.6},{"run":"P29","hour":222,"temp":4.5},{"run":"P29","hour":240,"temp":3.2},{"run":"P29","hour":258,"temp":2.2},{"run":"P29","hour":276,"temp":1.9},{"run":"P29","hour":288,"temp":0.9},{"run":"P29","hour":300,"temp":1.7},{"run":"P29","hour":312,"temp":-2.1},{"run":"P29","hour":324,"temp":-1.0},{"run":"P29","hour":336,"temp":-0.3},{"run":"P29","hour":348,"temp":-1.9},{"run":"P29","hour":360,"temp":-3.9},{"run":"P29","hour":372,"temp":-3.3},{"run":"P29","hour":384,"temp":-4.0},
{"run":"P30","hour":6,"temp":1.9},{"run":"P30","hour":18,"temp":4.3},{"run":"P30","hour":42,"temp":2.9},{"run":"P30","hour":48,"temp":3.8},{"run":"P30","hour":60,"temp":-2.9},{"run":"P30","hour":66,"temp":-3.5},{"run":"P30","hour":84,"temp":-3.4},{"run":"P30","hour":102,"temp":0.3},{"run":"P30","hour":114,"temp":3.3},{"run":"P30","hour":126,"temp":2.8},{"run":"P30","hour":138,"temp":3.5},{"run":"P30","hour":150,"temp":3.2},{"run":"P30","hour":162,"temp":4.0},{"run":"P30","hour":186,"temp":5.6},{"run":"P30","hour":204,"temp":5.5},{"run":"P30","hour":222,"temp":5.0},{"run":"P30","hour":240,"temp":4.5},{"run":"P30","hour":258,"temp":4.7},{"run":"P30","hour":276,"temp":3.1},{"run":"P30","hour":288,"temp":2.6},{"run":"P30","hour":300,"temp":2.3},{"run":"P30","hour":312,"temp":3.0},{"run":"P30","hour":324,"temp":5.1},{"run":"P30","hour":336,"temp":4.6},{"run":"P30","hour":348,"temp":3.4},{"run":"P30","hour":360,"temp":3.5},{"run":"P30","hour":372,"temp":2.7},{"run":"P30","hour":384,"temp":2.1},
{"run":"Control","hour":6,"temp":1.5},{"run":"Control","hour":12,"temp":2.5},{"run":"Control","hour":18,"temp":4.0},{"run":"Control","hour":24,"temp":3.7},{"run":"Control","hour":30,"temp":3.3},{"run":"Control","hour":36,"temp":2.9},{"run":"Control","hour":42,"temp":2.1},{"run":"Control","hour":48,"temp":3.5},{"run":"Control","hour":54,"temp":1.0},{"run":"Control","hour":60,"temp":-1.0},{"run":"Control","hour":66,"temp":-2.5},{"run":"Control","hour":72,"temp":-2.2},{"run":"Control","hour":78,"temp":-2.5},{"run":"Control","hour":84,"temp":-2.3},{"run":"Control","hour":90,"temp":-2.1},{"run":"Control","hour":96,"temp":-1.2},{"run":"Control","hour":102,"temp":-0.2},{"run":"Control","hour":108,"temp":0.9},{"run":"Control","hour":114,"temp":4.9},{"run":"Control","hour":120,"temp":2.5},{"run":"Control","hour":126,"temp":3.1},{"run":"Control","hour":132,"temp":3.6},{"run":"Control","hour":138,"temp":4.9},{"run":"Control","hour":144,"temp":4.5},{"run":"Control","hour":150,"temp":4.1},{"run":"Control","hour":156,"temp":3.6},{"run":"Control","hour":162,"temp":4.5},{"run":"Control","hour":168,"temp":3.6},{"run":"Control","hour":174,"temp":3.2},{"run":"Control","hour":180,"temp":3.1},{"run":"Control","hour":186,"temp":4.3},{"run":"Control","hour":192,"temp":6.5},{"run":"Control","hour":198,"temp":6.5},{"run":"Control","hour":204,"temp":7.3},{"run":"Control","hour":210,"temp":8.1},{"run":"Control","hour":216,"temp":8.2},{"run":"Control","hour":222,"temp":8.1},{"run":"Control","hour":228,"temp":7.2},{"run":"Control","hour":234,"temp":8.5},{"run":"Control","hour":240,"temp":8.1},{"run":"Control","hour":246,"temp":7.8},{"run":"Control","hour":252,"temp":7.3},{"run":"Control","hour":258,"temp":8.7},{"run":"Control","hour":264,"temp":9.1},{"run":"Control","hour":270,"temp":9.2},{"run":"Control","hour":276,"temp":8.4},{"run":"Control","hour":282,"temp":10.3},{"run":"Control","hour":288,"temp":10.3},{"run":"Control","hour":294,"temp":8.6},{"run":"Control","hour":300,"temp":9.0},{"run":"Control","hour":306,"temp":9.4},{"run":"Control","hour":312,"temp":8.6},{"run":"Control","hour":318,"temp":8.7},{"run":"Control","hour":324,"temp":9.9},{"run":"Control","hour":330,"temp":10.1},{"run":"Control","hour":336,"temp":8.6},{"run":"Control","hour":342,"temp":8.5},{"run":"Control","hour":348,"temp":7.2},{"run":"Control","hour":354,"temp":6.9},{"run":"Control","hour":360,"temp":6.3},{"run":"Control","hour":366,"temp":5.3},{"run":"Control","hour":372,"temp":5.0},{"run":"Control","hour":378,"temp":0.5},{"run":"Control","hour":384,"temp":-0.3},
{"run":"Ens. mean","hour":6,"temp":1.6},{"run":"Ens. mean","hour":12,"temp":2.6},{"run":"Ens. mean","hour":18,"temp":4.1},{"run":"Ens. mean","hour":24,"temp":3.8},{"run":"Ens. mean","hour":30,"temp":3.3},{"run":"Ens. mean","hour":36,"temp":2.9},{"run":"Ens. mean","hour":42,"temp":2.4},{"run":"Ens. mean","hour":48,"temp":3.1},{"run":"Ens. mean","hour":54,"temp":0.6},{"run":"Ens. mean","hour":60,"temp":-2.5},{"run":"Ens. mean","hour":66,"temp":-3.0},{"run":"Ens. mean","hour":72,"temp":-2.7},{"run":"Ens. mean","hour":78,"temp":-2.5},{"run":"Ens. mean","hour":84,"temp":-2.3},{"run":"Ens. mean","hour":90,"temp":-1.7},{"run":"Ens. mean","hour":96,"temp":-0.9},{"run":"Ens. mean","hour":102,"temp":0.7},{"run":"Ens. mean","hour":108,"temp":1.8},{"run":"Ens. mean","hour":114,"temp":3.6},{"run":"Ens. mean","hour":120,"temp":3.5},{"run":"Ens. mean","hour":126,"temp":3.4},{"run":"Ens. mean","hour":132,"temp":3.5},{"run":"Ens. mean","hour":138,"temp":4.2},{"run":"Ens. mean","hour":144,"temp":3.9},{"run":"Ens. mean","hour":150,"temp":3.4},{"run":"Ens. mean","hour":156,"temp":3.4},{"run":"Ens. mean","hour":162,"temp":4.2},{"run":"Ens. mean","hour":168,"temp":4.1},{"run":"Ens. mean","hour":174,"temp":4.0},{"run":"Ens. mean","hour":180,"temp":4.6},{"run":"Ens. mean","hour":186,"temp":5.1},{"run":"Ens. mean","hour":192,"temp":5.6},{"run":"Ens. mean","hour":198,"temp":5.3},{"run":"Ens. mean","hour":204,"temp":5.4},{"run":"Ens. mean","hour":210,"temp":6.2},{"run":"Ens. mean","hour":216,"temp":6.0},{"run":"Ens. mean","hour":222,"temp":5.8},{"run":"Ens. mean","hour":228,"temp":5.3},{"run":"Ens. mean","hour":234,"temp":5.8},{"run":"Ens. mean","hour":240,"temp":5.0},{"run":"Ens. mean","hour":246,"temp":4.6},{"run":"Ens. mean","hour":252,"temp":4.3},{"run":"Ens. mean","hour":258,"temp":4.8},{"run":"Ens. mean","hour":264,"temp":4.5},{"run":"Ens. mean","hour":270,"temp":3.8},{"run":"Ens. mean","hour":276,"temp":3.8},{"run":"Ens. mean","hour":282,"temp":4.1},{"run":"Ens. mean","hour":288,"temp":3.7},{"run":"Ens. mean","hour":294,"temp":3.6},{"run":"Ens. mean","hour":300,"temp":3.6},{"run":"Ens. mean","hour":306,"temp":4.1},{"run":"Ens. mean","hour":312,"temp":3.5},{"run":"Ens. mean","hour":318,"temp":3.0},{"run":"Ens. mean","hour":324,"temp":3.0},{"run":"Ens. mean","hour":330,"temp":3.4},{"run":"Ens. mean","hour":336,"temp":3.0},{"run":"Ens. mean","hour":342,"temp":2.4},{"run":"Ens. mean","hour":348,"temp":2.5},{"run":"Ens. mean","hour":354,"temp":2.5},{"run":"Ens. mean","hour":360,"temp":2.1},{"run":"Ens. mean","hour":366,"temp":1.7},{"run":"Ens. mean","hour":372,"temp":2.1},{"run":"Ens. mean","hour":378,"temp":2.4},{"run":"Ens. mean","hour":384,"temp":2.3},
{"run":"Oper","hour":6,"temp":1.8},{"run":"Oper","hour":12,"temp":2.8},{"run":"Oper","hour":18,"temp":4.1},{"run":"Oper","hour":24,"temp":3.8},{"run":"Oper","hour":30,"temp":3.4},{"run":"Oper","hour":36,"temp":3.0},{"run":"Oper","hour":42,"temp":2.2},{"run":"Oper","hour":48,"temp":3.8},{"run":"Oper","hour":54,"temp":0.6},{"run":"Oper","hour":60,"temp":-3.0},{"run":"Oper","hour":66,"temp":-2.7},{"run":"Oper","hour":72,"temp":-1.0},{"run":"Oper","hour":78,"temp":-1.5},{"run":"Oper","hour":84,"temp":-1.7},{"run":"Oper","hour":90,"temp":-1.5},{"run":"Oper","hour":96,"temp":-0.6},{"run":"Oper","hour":102,"temp":1.8},{"run":"Oper","hour":108,"temp":2.8},{"run":"Oper","hour":114,"temp":4.8},{"run":"Oper","hour":120,"temp":3.5},{"run":"Oper","hour":126,"temp":3.4},{"run":"Oper","hour":132,"temp":3.5},{"run":"Oper","hour":138,"temp":4.2},{"run":"Oper","hour":144,"temp":4.3},{"run":"Oper","hour":150,"temp":4.1},{"run":"Oper","hour":156,"temp":3.8},{"run":"Oper","hour":162,"temp":4.8},{"run":"Oper","hour":168,"temp":5.6},{"run":"Oper","hour":174,"temp":4.8},{"run":"Oper","hour":180,"temp":5.0},{"run":"Oper","hour":186,"temp":5.1},{"run":"Oper","hour":192,"temp":0.9},{"run":"Oper","hour":198,"temp":-3.3},{"run":"Oper","hour":204,"temp":-1.6},{"run":"Oper","hour":210,"temp":0.2},{"run":"Oper","hour":216,"temp":0.2},{"run":"Oper","hour":222,"temp":-0.8},{"run":"Oper","hour":228,"temp":0.9},{"run":"Oper","hour":234,"temp":1.4},{"run":"Oper","hour":240,"temp":0.3},{"run":"Oper","hour":246,"temp":0.9},{"run":"Oper","hour":252,"temp":1.0},{"run":"Oper","hour":258,"temp":2.4},{"run":"Oper","hour":264,"temp":3.9},{"run":"Oper","hour":270,"temp":5.4},{"run":"Oper","hour":276,"temp":5.7},{"run":"Oper","hour":282,"temp":7.7},{"run":"Oper","hour":288,"temp":10.2},{"run":"Oper","hour":294,"temp":9.6},{"run":"Oper","hour":300,"temp":9.8},{"run":"Oper","hour":306,"temp":8.9},{"run":"Oper","hour":312,"temp":7.9},{"run":"Oper","hour":318,"temp":5.5},{"run":"Oper","hour":324,"temp":6.0},{"run":"Oper","hour":330,"temp":7.7},{"run":"Oper","hour":336,"temp":8.3},{"run":"Oper","hour":342,"temp":7.9},{"run":"Oper","hour":348,"temp":7.3},{"run":"Oper","hour":354,"temp":7.6},{"run":"Oper","hour":360,"temp":6.0},{"run":"Oper","hour":366,"temp":4.5},{"run":"Oper","hour":372,"temp":3.6},{"run":"Oper","hour":378,"temp":5.6},{"run":"Oper","hour":384,"temp":4.9},
{"run":"1991-2020 mean","hour":6,"temp":3.7},{"run":"1991-2020 mean","hour":12,"temp":4.3},{"run":"1991-2020 mean","hour":18,"temp":4.3},{"run":"1991-2020 mean","hour":24,"temp":3.9},{"run":"1991-2020 mean","hour":30,"temp":3.5},{"run":"1991-2020 mean","hour":36,"temp":3.5},{"run":"1991-2020 mean","hour":42,"temp":3.5},{"run":"1991-2020 mean","hour":48,"temp":3.2},{"run":"1991-2020 mean","hour":54,"temp":3.1},{"run":"1991-2020 mean","hour":60,"temp":3.7},{"run":"1991-2020 mean","hour":66,"temp":3.9},{"run":"1991-2020 mean","hour":72,"temp":3.3},{"run":"1991-2020 mean","hour":78,"temp":2.7},{"run":"1991-2020 mean","hour":84,"temp":2.6},{"run":"1991-2020 mean","hour":90,"temp":3.0},{"run":"1991-2020 mean","hour":96,"temp":2.9},{"run":"1991-2020 mean","hour":102,"temp":2.9},{"run":"1991-2020 mean","hour":108,"temp":3.2},{"run":"1991-2020 mean","hour":114,"temp":3.9},{"run":"1991-2020 mean","hour":120,"temp":3.7},{"run":"1991-2020 mean","hour":126,"temp":3.6},{"run":"1991-2020 mean","hour":132,"temp":3.9},{"run":"1991-2020 mean","hour":138,"temp":4.5},{"run":"1991-2020 mean","hour":144,"temp":4.3},{"run":"1991-2020 mean","hour":150,"temp":4.0},{"run":"1991-2020 mean","hour":156,"temp":3.8},{"run":"1991-2020 mean","hour":162,"temp":4.5},{"run":"1991-2020 mean","hour":168,"temp":4.4},{"run":"1991-2020 mean","hour":174,"temp":4.4},{"run":"1991-2020 mean","hour":180,"temp":4.8},{"run":"1991-2020 mean","hour":186,"temp":5.1},{"run":"1991-2020 mean","hour":192,"temp":4.7},{"run":"1991-2020 mean","hour":198,"temp":4.3},{"run":"1991-2020 mean","hour":204,"temp":4.3},{"run":"1991-2020 mean","hour":210,"temp":4.9},{"run":"1991-2020 mean","hour":216,"temp":4.6},{"run":"1991-2020 mean","hour":222,"temp":4.1},{"run":"1991-2020 mean","hour":228,"temp":4.2},{"run":"1991-2020 mean","hour":234,"temp":4.7},{"run":"1991-2020 mean","hour":240,"temp":4.5},{"run":"1991-2020 mean","hour":246,"temp":4.5},{"run":"1991-2020 mean","hour":252,"temp":4.7},{"run":"1991-2020 mean","hour":258,"temp":5.1},{"run":"1991-2020 mean","hour":264,"temp":5.1},{"run":"1991-2020 mean","hour":270,"temp":5.1},{"run":"1991-2020 mean","hour":276,"temp":5.4},{"run":"1991-2020 mean","hour":282,"temp":5.8},{"run":"1991-2020 mean","hour":288,"temp":5.3},{"run":"1991-2020 mean","hour":294,"temp":4.5},{"run":"1991-2020 mean","hour":300,"temp":4.6},{"run":"1991-2020 mean","hour":306,"temp":5.1},{"run":"1991-2020 mean","hour":312,"temp":4.6},{"run":"1991-2020 mean","hour":318,"temp":4.2},{"run":"1991-2020 mean","hour":324,"temp":4.8},{"run":"1991-2020 mean","hour":330,"temp":5.4},{"run":"1991-2020 mean","hour":336,"temp":5.0},{"run":"1991-2020 mean","hour":342,"temp":4.5},{"run":"1991-2020 mean","hour":348,"temp":5.0},{"run":"1991-2020 mean","hour":354,"temp":5.4},{"run":"1991-2020 mean","hour":360,"temp":4.8},{"run":"1991-2020 mean","hour":366,"temp":4.3},{"run":"1991-2020 mean","hour":372,"temp":4.8},{"run":"1991-2020 mean","hour":378,"temp":5.3},{"run":"1991-2020 mean","hour":384,"temp":4.8}
],
"rainfall":[
{"run":"P2","hour":60,"rain":1.2},{"run":"P2","hour":66,"rain":1.1},{"run":"P2","hour":72,"rain":0.9},{"run":"P2","hour":78,"rain":0.5},{"run":"P2","hour":288,"rain":0.4},{"run":"P2","hour":294,"rain":1.2},{"run":"P2","hour":300,"rain":2.9},{"run":"P2","hour":306,"rain":0.6},
{"run":"P3","hour":54,"rain":0.6},{"run":"P3","hour":60,"rain":4.3},{"run":"P3","hour":66,"rain":2.6},{"run":"P3","hour":72,"rain":0.4},{"run":"P3","hour":270,"rain":0.2},{"run":"P3","hour":276,"rain":1.0},{"run":"P3","hour":282,"rain":7.3},{"run":"P3","hour":288,"rain":0.5},{"run":"P3","hour":318,"rain":0.6},{"run":"P3","hour":324,"rain":4.2},{"run":"P3","hour":330,"rain":2.0},{"run":"P3","hour":336,"rain":0.4},
{"run":"P4","hour":54,"rain":1.0},{"run":"P4","hour":60,"rain":7.8},{"run":"P4","hour":66,"rain":2.0},{"run":"P4","hour":312,"rain":0.3},{"run":"P4","hour":318,"rain":1.5},{"run":"P4","hour":324,"rain":4.2},{"run":"P4","hour":330,"rain":5.2},{"run":"P4","hour":336,"rain":2.5},{"run":"P4","hour":342,"rain":0.2},
{"run":"P5","hour":60,"rain":2.4},{"run":"P5","hour":66,"rain":1.5},{"run":"P5","hour":360,"rain":1.3},{"run":"P5","hour":372,"rain":0.6},{"run":"P5","hour":378,"rain":2.2},{"run":"P5","hour":384,"rain":0.5},
{"run":"P6","hour":300,"rain":2.7},{"run":"P6","hour":306,"rain":6.1},{"run":"P6","hour":312,"rain":0.5},
{"run":"P7","hour":18,"rain":0.3},{"run":"P7","hour":42,"rain":0.5},{"run":"P7","hour":48,"rain":1.0},{"run":"P7","hour":54,"rain":2.4},{"run":"P7","hour":60,"rain":1.5},{"run":"P7","hour":66,"rain":0.6},{"run":"P7","hour":72,"rain":0.4},{"run":"P7","hour":78,"rain":0.4},{"run":"P7","hour":84,"rain":0.5},{"run":"P7","hour":246,"rain":0.1},{"run":"P7","hour":252,"rain":2.5},{"run":"P7","hour":258,"rain":0.6},{"run":"P7","hour":264,"rain":0.1},{"run":"P7","hour":330,"rain":2.0},{"run":"P7","hour":336,"rain":6.2},{"run":"P7","hour":342,"rain":2.5},{"run":"P7","hour":348,"rain":0.2},
{"run":"P8","hour":60,"rain":2.5},{"run":"P8","hour":66,"rain":3.3},{"run":"P8","hour":72,"rain":0.9},{"run":"P8","hour":282,"rain":0.6},{"run":"P8","hour":288,"rain":2.8},{"run":"P8","hour":294,"rain":1.9},{"run":"P8","hour":300,"rain":0.3},{"run":"P8","hour":336,"rain":6.0},{"run":"P8","hour":342,"rain":4.0},{"run":"P8","hour":348,"rain":6.7},{"run":"P8","hour":354,"rain":1.5},
{"run":"P9","hour":300,"rain":0.7},{"run":"P9","hour":306,"rain":2.9},{"run":"P9","hour":312,"rain":0.2},{"run":"P9","hour":318,"rain":1.5},{"run":"P9","hour":324,"rain":12.5},{"run":"P9","hour":330,"rain":2.3},{"run":"P9","hour":336,"rain":0.3},{"run":"P9","hour":372,"rain":0.6},{"run":"P9","hour":378,"rain":5.1},{"run":"P9","hour":384,"rain":0.8},
{"run":"P10","hour":60,"rain":1.4},{"run":"P10","hour":66,"rain":2.3},{"run":"P10","hour":276,"rain":1.0},{"run":"P10","hour":282,"rain":3.1},{"run":"P10","hour":288,"rain":0.1},{"run":"P10","hour":372,"rain":0.5},{"run":"P10","hour":378,"rain":3.5},{"run":"P10","hour":384,"rain":0.4},
{"run":"P11","hour":60,"rain":1.6},{"run":"P11","hour":66,"rain":1.2},{"run":"P11","hour":168,"rain":0.2},{"run":"P11","hour":180,"rain":0.3},
{"run":"P12","hour":180,"rain":0.6},{"run":"P12","hour":258,"rain":1.8},{"run":"P12","hour":264,"rain":10.9},{"run":"P12","hour":270,"rain":0.5},
{"run":"P13","hour":48,"rain":0.3},{"run":"P13","hour":54,"rain":0.7},{"run":"P13","hour":60,"rain":6.9},{"run":"P13","hour":66,"rain":0.9},{"run":"P13","hour":174,"rain":1.7},{"run":"P13","hour":180,"rain":1.9},{"run":"P13","hour":186,"rain":1.2},{"run":"P13","hour":192,"rain":0.3},{"run":"P13","hour":234,"rain":0.6},{"run":"P13","hour":240,"rain":0.8},{"run":"P13","hour":246,"rain":0.3},{"run":"P13","hour":372,"rain":1.2},{"run":"P13","hour":378,"rain":3.7},{"run":"P13","hour":384,"rain":0.5},
{"run":"P14","hour":54,"rain":1.2},{"run":"P14","hour":60,"rain":2.4},{"run":"P14","hour":66,"rain":3.9},{"run":"P14","hour":72,"rain":0.8},{"run":"P14","hour":84,"rain":1.55},{"run":"P14","hour":294,"rain":0.9},{"run":"P14","hour":300,"rain":1.4},{"run":"P14","hour":306,"rain":1.0},
{"run":"P15","hour":174,"rain":0.1},{"run":"P15","hour":180,"rain":1.1},{"run":"P15","hour":186,"rain":0.2},{"run":"P15","hour":348,"rain":0.5},{"run":"P15","hour":354,"rain":3.1},{"run":"P15","hour":360,"rain":4.3},{"run":"P15","hour":366,"rain":9.2},{"run":"P15","hour":372,"rain":1.0},{"run":"P15","hour":378,"rain":0.3},
{"run":"P16","hour":54,"rain":1.3},{"run":"P16","hour":60,"rain":3.1},{"run":"P16","hour":66,"rain":3.9},{"run":"P16","hour":72,"rain":0.5},{"run":"P16","hour":300,"rain":1.6},{"run":"P16","hour":306,"rain":3.0},{"run":"P16","hour":312,"rain":0.6},{"run":"P16","hour":324,"rain":1.5},{"run":"P16","hour":330,"rain":9.1},{"run":"P16","hour":336,"rain":2.8},{"run":"P16","hour":342,"rain":0.4},{"run":"P16","hour":372,"rain":4.6},{"run":"P16","hour":378,"rain":3.8},{"run":"P16","hour":384,"rain":0.8},
{"run":"P17","hour":48,"rain":0.8},{"run":"P17","hour":54,"rain":0.9},{"run":"P17","hour":60,"rain":2.8},{"run":"P17","hour":66,"rain":1.0},{"run":"P17","hour":348,"rain":0.8},{"run":"P17","hour":354,"rain":2.6},{"run":"P17","hour":360,"rain":0.8},
{"run":"P18","hour":18,"rain":0.1},{"run":"P18","hour":60,"rain":0.6},{"run":"P18","hour":66,"rain":0.5},{"run":"P18","hour":138,"rain":0.1},{"run":"P18","hour":294,"rain":0.3},{"run":"P18","hour":300,"rain":1.5},{"run":"P18","hour":306,"rain":3.4},{"run":"P18","hour":312,"rain":0.4},
{"run":"P19","hour":48,"rain":0.4},{"run":"P19","hour":54,"rain":0.6},{"run":"P19","hour":60,"rain":1.4},{"run":"P19","hour":66,"rain":0.7},{"run":"P19","hour":228,"rain":1.25},{"run":"P19","hour":234,"rain":4.5},{"run":"P19","hour":240,"rain":6.7},{"run":"P19","hour":246,"rain":7.1},{"run":"P19","hour":252,"rain":0.5},{"run":"P19","hour":354,"rain":2.1},{"run":"P19","hour":360,"rain":0.9},
{"run":"P20","hour":138,"rain":0.25},{"run":"P20","hour":162,"rain":0.2},{"run":"P20","hour":168,"rain":1.9},{"run":"P20","hour":174,"rain":0.1},
{"run":"P21","hour":306,"rain":0.7},{"run":"P21","hour":312,"rain":2.0},{"run":"P21","hour":318,"rain":0.3},
{"run":"P22","hour":60,"rain":1.0},{"run":"P22","hour":66,"rain":0.6},{"run":"P22","hour":72,"rain":0.8},{"run":"P22","hour":78,"rain":0.3},{"run":"P22","hour":348,"rain":0.2},{"run":"P22","hour":354,"rain":4.9},{"run":"P22","hour":360,"rain":1.6},{"run":"P22","hour":366,"rain":0.2},
{"run":"P23","hour":60,"rain":2.0},{"run":"P23","hour":66,"rain":3.0},{"run":"P23","hour":318,"rain":0.5},{"run":"P23","hour":324,"rain":3.4},{"run":"P23","hour":330,"rain":2.6},{"run":"P23","hour":336,"rain":1.2},
{"run":"P24","hour":60,"rain":3.5},{"run":"P24","hour":66,"rain":1.7},{"run":"P24","hour":294,"rain":1.0},{"run":"P24","hour":300,"rain":3.1},{"run":"P24","hour":306,"rain":0.4},{"run":"P24","hour":348,"rain":0.6},{"run":"P24","hour":354,"rain":2.9},{"run":"P24","hour":360,"rain":3.0},{"run":"P24","hour":366,"rain":1.2},{"run":"P24","hour":372,"rain":0.2},
{"run":"P25","hour":228,"rain":0.4},{"run":"P25","hour":234,"rain":1.2},{"run":"P25","hour":240,"rain":0.7},{"run":"P25","hour":246,"rain":0.2},
{"run":"P26","hour":54,"rain":0.9},{"run":"P26","hour":60,"rain":2.0},{"run":"P26","hour":66,"rain":1.7},{"run":"P26","hour":72,"rain":2.4},{"run":"P26","hour":78,"rain":0.5},{"run":"P26","hour":84,"rain":0.4},{"run":"P26","hour":276,"rain":0.5},{"run":"P26","hour":282,"rain":1.6},{"run":"P26","hour":288,"rain":0.5},{"run":"P26","hour":324,"rain":1.6},{"run":"P26","hour":330,"rain":2.3},{"run":"P26","hour":336,"rain":6.0},{"run":"P26","hour":342,"rain":3.0},{"run":"P26","hour":348,"rain":0.6},
{"run":"P28","hour":54,"rain":0.8},{"run":"P28","hour":60,"rain":1.9},{"run":"P28","hour":66,"rain":0.9},
{"run":"P30","hour":54,"rain":1.0},{"run":"P30","hour":60,"rain":1.2},
{"run":"Control","hour":48,"rain":0.3},{"run":"Control","hour":54,"rain":0.6},{"run":"Control","hour":60,"rain":2.3},{"run":"Control","hour":66,"rain":0.9},{"run":"Control","hour":72,"rain":0.1},{"run":"Control","hour":354,"rain":0.1},{"run":"Control","hour":360,"rain":0.3},{"run":"Control","hour":366,"rain":2.3},{"run":"Control","hour":372,"rain":0.3},
{"run":"Ens. mean","hour":6,"rain":0},{"run":"Ens. mean","hour":12,"rain":0},{"run":"Ens. mean","hour":18,"rain":0},{"run":"Ens. mean","hour":24,"rain":0},{"run":"Ens. mean","hour":30,"rain":0},{"run":"Ens. mean","hour":36,"rain":0},{"run":"Ens. mean","hour":42,"rain":0.2},{"run":"Ens. mean","hour":48,"rain":0.4},{"run":"Ens. mean","hour":54,"rain":0.1},{"run":"Ens. mean","hour":60,"rain":1.8},{"run":"Ens. mean","hour":66,"rain":1.5},{"run":"Ens. mean","hour":72,"rain":0.25},{"run":"Ens. mean","hour":78,"rain":0},{"run":"Ens. mean","hour":84,"rain":0},{"run":"Ens. mean","hour":90,"rain":0},{"run":"Ens. mean","hour":96,"rain":0},{"run":"Ens. mean","hour":102,"rain":0},{"run":"Ens. mean","hour":108,"rain":0},{"run":"Ens. mean","hour":114,"rain":0},{"run":"Ens. mean","hour":120,"rain":0},{"run":"Ens. mean","hour":126,"rain":0},{"run":"Ens. mean","hour":132,"rain":0},{"run":"Ens. mean","hour":138,"rain":0},{"run":"Ens. mean","hour":144,"rain":0},{"run":"Ens. mean","hour":150,"rain":0},{"run":"Ens. mean","hour":156,"rain":0},{"run":"Ens. mean","hour":162,"rain":0},{"run":"Ens. mean","hour":168,"rain":0},{"run":"Ens. mean","hour":174,"rain":0},{"run":"Ens. mean","hour":180,"rain":0},{"run":"Ens. mean","hour":186,"rain":0},{"run":"Ens. mean","hour":192,"rain":0},{"run":"Ens. mean","hour":198,"rain":0},{"run":"Ens. mean","hour":204,"rain":0},{"run":"Ens. mean","hour":210,"rain":0},{"run":"Ens. mean","hour":216,"rain":0},{"run":"Ens. mean","hour":222,"rain":0},{"run":"Ens. mean","hour":228,"rain":0},{"run":"Ens. mean","hour":234,"rain":0.1},{"run":"Ens. mean","hour":240,"rain":0.25},{"run":"Ens. mean","hour":246,"rain":0.2},{"run":"Ens. mean","hour":252,"rain":0.1},{"run":"Ens. mean","hour":258,"rain":0.1},{"run":"Ens. mean","hour":264,"rain":0.4},{"run":"Ens. mean","hour":270,"rain":0.1},{"run":"Ens. mean","hour":276,"rain":0.1},{"run":"Ens. mean","hour":282,"rain":0.6},{"run":"Ens. mean","hour":288,"rain":0.25},{"run":"Ens. mean","hour":294,"rain":0.25},{"run":"Ens. mean","hour":300,"rain":0.55},{"run":"Ens. mean","hour":306,"rain":0.7},{"run":"Ens. mean","hour":312,"rain":0.25},{"run":"Ens. mean","hour":318,"rain":0.25},{"run":"Ens. mean","hour":324,"rain":1.0},{"run":"Ens. mean","hour":330,"rain":1.0},{"run":"Ens. mean","hour":336,"rain":0.6},{"run":"Ens. mean","hour":342,"rain":0.3},{"run":"Ens. mean","hour":348,"rain":0.4},{"run":"Ens. mean","hour":354,"rain":1.0},{"run":"Ens. mean","hour":360,"rain":0.4},{"run":"Ens. mean","hour":366,"rain":0.5},{"run":"Ens. mean","hour":372,"rain":0.4},{"run":"Ens. mean","hour":378,"rain":0.8},{"run":"Ens. mean","hour":384,"rain":0.2},
{"run":"Oper","hour":42,"rain":0.2},{"run":"Oper","hour":48,"rain":0.4},{"run":"Oper","hour":54,"rain":0.1},{"run":"Oper","hour":60,"rain":1.8},{"run":"Oper","hour":66,"rain":0.4}
],
"captions":[
{"caption":"GFS Ensemble, 42N, 12.5E","hour":-25.5,"temp":-23.2},
{"caption":"Wetterzentrale.de","hour":289,"temp":-23.2}
]
},
"encoding":{
"x":{"field":"hour","type":"quantitative","title":"Date (UTC)","scale":{"domain":[0,384],"nice":false,"zero":false},
"axis":{"values":[0,24,48,72,96,120,144,168,192,216,240,264,288,312,336,360,384],"labelExpr":"datum.value%48==0?timeFormat(datetime(2026,2,24,datum.value),'%d%b %Hz'):''","labelColor":"#fff","labelFontSize":10.5,"labelOverlap":false,"labelFlush":false,"labelPadding":7,"tickSize":0,"domain":false,"grid":true,"gridColor":"#333","gridDash":[4,4],"gridOpacity":{"condition":{"test":"datum.value==0||datum.value==384","value":0},"value":1},"titleColor":"#fff","titleFontSize":10,"titleFontWeight":"normal","titlePadding":8}}
},
"layer":[
{"data":{"name":"temperature"},"transform":[{"filter":"datum.run!='Oper'&&datum.run!='1991-2020 mean'"}],"mark":{"type":"line"},
"encoding":{
"y":{"field":"temp","type":"quantitative","title":"850 hPa Temp. (°C)","scale":{"domain":[-20,25],"nice":false,"zero":false},"axis":{"values":[-20,-15,-10,-5,0,5,10,15,20,25],"labelColor":"#fff","labelFontSize":10.5,"labelPadding":10,"tickSize":0,"domain":false,"grid":true,"gridColor":"#333","gridDash":[4,4],"gridOpacity":{"condition":{"test":"datum.value==25||datum.value==-20","value":0},"value":1},"titleColor":"#fff","titleFontSize":10,"titleFontWeight":"normal","titlePadding":-6}},
"color":{"field":"run","type":"nominal","scale":{"domain":["P1","P2","P3","P4","P5","P6","P7","P8","P9","P10","P11","P12","P13","P14","P15","P16","P17","P18","P19","P20","P21","P22","P23","P24","P25","P26","P27","P28","P29","P30","Control","Ens. mean"],"range":["#0a20d0","#0050c0","#0870b0","#0090b0","#00a0a0","#00a078","#00a050","#00a830","#00b018","#10c000","#b0b000","#b8a800","#b89000","#b88000","#b07000","#b06000","#a85000","#a04010","#882010","#801010","#0a20d0","#0050c0","#0870b0","#0090b0","#00a0a0","#00a078","#00a050","#00a830","#00b018","#10c000","#0000ff","#ffffff"]},"legend":{"legendX":-165,"legendY":5}},
"strokeWidth":{"condition":{"test":"datum.run=='Control'||datum.run=='Ens. mean'","value":3.5},"value":1}
}},
{"data":{"name":"rainfall"},"transform":[{"impute":"rain","key":"hour","groupby":["run"],"value":0}],"mark":{"type":"line"},
"encoding":{
"y":{"field":"rain","type":"quantitative","title":"Niederschlag (mm)","scale":{"domain":[0,40],"nice":false,"zero":false},"axis":{"orient":"right","values":[0,1,2,3,4,5,6,7,8,9,10,11,12,13,14,15,16,17,18,19,20,21,22,23,24,25,26,27,28,29,30,31,32,33,34,35,36,37,38,39,40],"labelExpr":"datum.value%10==0?datum.label:''","labelColor":"#fff","labelFontSize":10.5,"labelPadding":7,"labelOverlap":false,"tickSize":0,"tickColor":"#fff","tickWidth":1.5,"encode":{"ticks":{"update":{"x2":{"signal":"datum.value%2==0?-5:-3"}}}},"domain":false,"grid":false,"titleColor":"#fff","titleFontSize":10,"titleFontWeight":"normal","titlePadding":4}},
"color":{"field":"run","type":"nominal","legend":null,"scale":{"domain":["P1","P2","P3","P4","P5","P6","P7","P8","P9","P10","P11","P12","P13","P14","P15","P16","P17","P18","P19","P20","P21","P22","P23","P24","P25","P26","P27","P28","P29","P30","Control","Ens. mean","Oper"],"range":["#0a20d0","#0050c0","#0870b0","#0090b0","#00a0a0","#00a078","#00a050","#00a830","#00b018","#10c000","#b0b000","#b8a800","#b89000","#b88000","#b07000","#b06000","#a85000","#a04010","#882010","#801010","#0a20d0","#0050c0","#0870b0","#0090b0","#00a0a0","#00a078","#00a050","#00a830","#00b018","#10c000","#0000ff","#ffffff","#00e000"]}},
"strokeWidth":{"condition":{"test":"datum.run=='Control'||datum.run=='Ens. mean'||datum.run=='Oper'","value":3},"value":1}
}},
{"data":{"name":"temperature"},"transform":[{"filter":"datum.run=='Oper'"}],"mark":{"type":"line","strokeWidth":3.5},
"encoding":{
"y":{"field":"temp","type":"quantitative","scale":{"domain":[-20,25],"nice":false,"zero":false},"axis":null},
"color":{"field":"run","type":"nominal","scale":{"domain":["Oper"],"range":["#00e000"]},"legend":{"legendX":-165,"legendY":271}}
}},
{"data":{"name":"temperature"},"transform":[{"filter":"datum.run=='1991-2020 mean'"}],"mark":{"type":"line","strokeWidth":3.5},
"encoding":{
"y":{"field":"temp","type":"quantitative","scale":{"domain":[-20,25],"nice":false,"zero":false},"axis":null},
"color":{"field":"run","type":"nominal","scale":{"domain":["1991-2020 mean"],"range":["#f04040"]},"legend":{"legendX":-110,"legendY":258,"labelExpr":"['1991-2020','mean']"}}
}},
{"data":{"name":"captions"},"mark":{"type":"text","align":"left","baseline":"middle","fontSize":16,"color":"#fff"},
"encoding":{
"y":{"field":"temp","type":"quantitative","scale":{"domain":[-20,25],"nice":false,"zero":false},"axis":null},
"text":{"field":"caption"}
}}
],
"resolve":{"scale":{"y":"independent","color":"independent"},"axis":{"y":"independent"},"legend":{"color":"independent"}}
}
